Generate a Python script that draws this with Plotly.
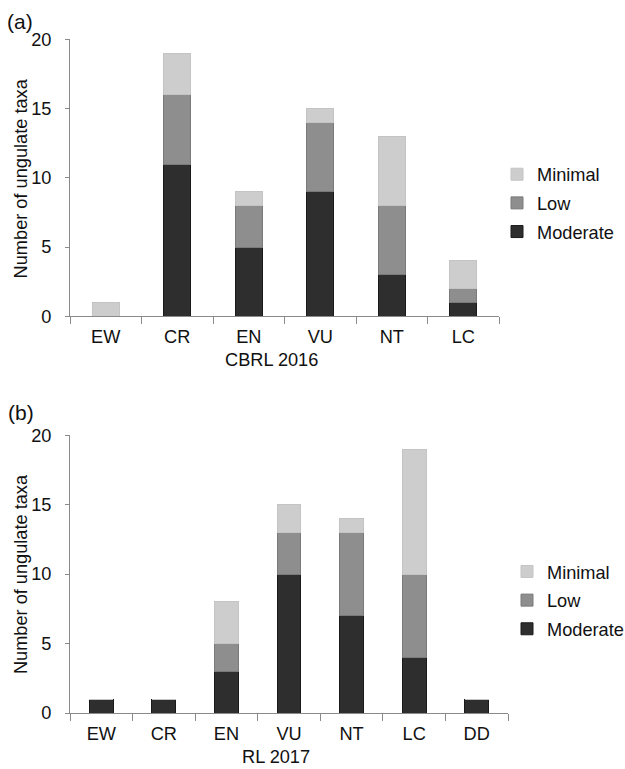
import plotly.graph_objects as go

cats_a = ["EW", "CR", "EN", "VU", "NT", "LC"]
moderate_a = [0, 11, 5, 9, 3, 1]
low_a = [0, 5, 3, 5, 5, 1]
minimal_a = [1, 3, 1, 1, 5, 2]

cats_b = ["EW", "CR", "EN", "VU", "NT", "LC", "DD"]
moderate_b = [1, 1, 3, 10, 7, 4, 1]
low_b = [0, 0, 2, 3, 6, 6, 0]
minimal_b = [0, 0, 3, 2, 1, 9, 0]

series_names = ["Moderate", "Low", "Minimal"]
legend_rank = {"Minimal": 1, "Low": 2, "Moderate": 3}
colors = {"Moderate": "#2e2e2e", "Low": "#8e8e8e", "Minimal": "#cdcdcd"}
edges = {"Moderate": "#1a1a1a", "Low": "#7a7a7a", "Minimal": "#c4c4c4"}

REF_W, REF_H = 625, 769
S = 0.975            # vertical capture scale observed for this page
TOP = 9.5            # vertical capture offset observed for this page
W, H = 641, 779
FONT = "Liberation Sans, Arial, sans-serif"
FS = 18.2

fig = go.Figure()
for name, vals in zip(series_names, [moderate_a, low_a, minimal_a]):
    fig.add_trace(go.Bar(x=cats_a, y=vals, name=name, xaxis="x", yaxis="y",
                         marker=dict(color=colors[name], line=dict(color=edges[name], width=1)),
                         legend="legend", legendgroup="a" + name, legendrank=legend_rank[name]))
for name, vals in zip(series_names, [moderate_b, low_b, minimal_b]):
    fig.add_trace(go.Bar(x=cats_b, y=vals, name=name, xaxis="x2", yaxis="y2",
                         marker=dict(color=colors[name], line=dict(color=edges[name], width=1)),
                         legend="legend2", legendgroup="b" + name, legendrank=legend_rank[name]))

def px_x(p):
    return p / W

def px_y(p):
    return 1 - ((p - TOP) / S) / H

axis_common = dict(showgrid=False, zeroline=False, showline=True, linecolor="#8a8a8a",
                   linewidth=1, tickfont=dict(family=FONT, size=FS, color="#111"))
xcommon = dict(ticks="outside", tickson="boundaries", ticklen=7, tickcolor="#8a8a8a",
               ticklabelstandoff=4, **axis_common)
ycommon = dict(range=[0, 20], tickvals=[0, 5, 10, 15, 20], ticks="outside", ticklen=4,
               tickcolor="#8a8a8a", ticklabelstandoff=10, **axis_common)

fig.update_layout(
    width=W, height=H, barmode="stack", bargap=0.62,
    margin=dict(l=0, r=0, t=0, b=0),
    paper_bgcolor="white", plot_bgcolor="white",
    font=dict(family=FONT, size=FS, color="#111"),
    xaxis=dict(domain=[px_x(70), px_x(499)], anchor="y", **xcommon),
    yaxis=dict(domain=[px_y(316), px_y(39)], anchor="x", **ycommon),
    xaxis2=dict(domain=[px_x(70), px_x(508)], anchor="y2", **xcommon),
    yaxis2=dict(domain=[px_y(713), px_y(435)], anchor="x2", **ycommon),
    legend=dict(x=px_x(497), y=px_y(155.5), xanchor="left", yanchor="top", traceorder="grouped",
                font=dict(family=FONT, size=FS, color="#111"), itemwidth=30, tracegroupgap=2,
                bgcolor="rgba(0,0,0,0)"),
    legend2=dict(x=px_x(507), y=px_y(553), xanchor="left", yanchor="top", traceorder="grouped",
                 font=dict(family=FONT, size=FS, color="#111"), itemwidth=30, tracegroupgap=2,
                 bgcolor="rgba(0,0,0,0)"),
    showlegend=True,
)

annotations = [
    dict(text="(a)", x=px_x(5), y=px_y(21), xanchor="left", yanchor="middle", font=dict(size=21)),
    dict(text="(b)", x=px_x(6), y=px_y(412), xanchor="left", yanchor="middle", font=dict(size=21)),
    dict(text="Number of ungulate taxa", x=px_x(21), y=px_y(178), textangle=-90,
         xanchor="center", yanchor="middle", font=dict(size=FS)),
    dict(text="Number of ungulate taxa", x=px_x(21), y=px_y(574), textangle=-90,
         xanchor="center", yanchor="middle", font=dict(size=FS)),
    dict(text="CBRL 2016", x=px_x(271), y=px_y(360), xanchor="center", yanchor="middle", font=dict(size=FS)),
    dict(text="RL 2017", x=px_x(276), y=px_y(757), xanchor="center", yanchor="middle", font=dict(size=FS)),
]
for a in annotations:
    a.update(xref="paper", yref="paper", showarrow=False)
fig.update_layout(annotations=annotations)

post = ("document.documentElement.style.margin='0';document.documentElement.style.padding='0';"
        "document.body.style.margin='0';document.body.style.padding='0';"
        "document.documentElement.style.overflow='hidden';document.body.style.overflow='hidden';")
fig.write_html("out.html", post_script=post, config={"displayModeBar": False})
